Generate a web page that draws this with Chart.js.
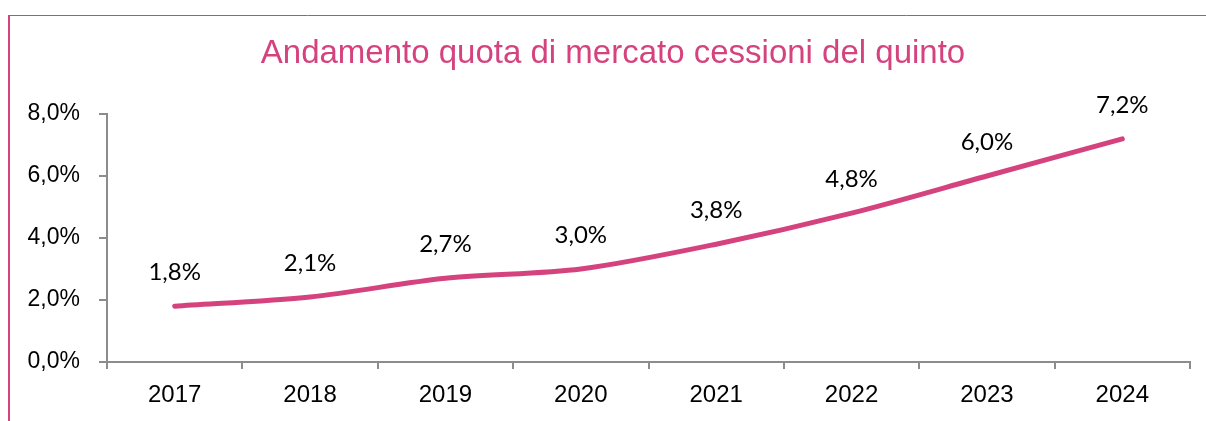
<!DOCTYPE html>
<html>
<head>
<meta charset="utf-8">
<script src="https://cdn.jsdelivr.net/npm/chart.js@4"></script>
<style>
  html, body { margin: 0; padding: 0; background: #fff; }
  #chart { display: block; }
</style>
</head>
<body>
<canvas id="chart" width="1206" height="421"></canvas>
<script>
const years = ['2017', '2018', '2019', '2020', '2021', '2022', '2023', '2024'];
const marketShare = [1.8, 2.1, 2.7, 3.0, 3.8, 4.8, 6.0, 7.2];
const yTicks = [0, 2, 4, 6, 8];

const pink = '#d5437f';
const axisGrey = '#8c8c8c';

// frame, title and point labels
const decorations = {
  id: 'decorations',
  beforeDraw(chart) {
    const ctx = chart.ctx;
    ctx.save();
    ctx.strokeStyle = pink;
    ctx.lineWidth = 2;
    ctx.beginPath();
    ctx.moveTo(9, 15);
    ctx.lineTo(9, 421);
    ctx.stroke();
    ctx.lineWidth = 1;
    ctx.beginPath();
    ctx.moveTo(8, 15.5);
    ctx.lineTo(1206, 15.5);
    ctx.stroke();

    ctx.fillStyle = pink;
    ctx.font = '33px "Liberation Sans", Arial, sans-serif';
    ctx.textAlign = 'center';
    ctx.textBaseline = 'middle';
    ctx.fillText('Andamento quota di mercato cessioni del quinto', 613, 54);
    ctx.restore();
  },
  afterDatasetsDraw(chart) {
    const ctx = chart.ctx;
    const meta = chart.getDatasetMeta(0);
    ctx.save();
    ctx.fillStyle = '#000';
    ctx.font = '24px Lato, sans-serif';
    ctx.textAlign = 'center';
    ctx.textBaseline = 'middle';
    meta.data.forEach((pt, i) => {
      const label = marketShare[i].toFixed(1).replace('.', ',') + '%';
      ctx.fillText(label, pt.x, pt.y - 34);
    });
    ctx.restore();
  }
};

new Chart(document.getElementById('chart'), {
  type: 'line',
  data: {
    labels: years,
    datasets: [{
      data: marketShare,
      borderColor: pink,
      borderWidth: 5,
      borderCapStyle: 'round',
      tension: 0.3,
      pointRadius: 0,
      fill: false,
    }],
  },
  options: {
    responsive: false,
    animation: false,
    devicePixelRatio: 1,
    layout: { padding: { top: 114, right: 16, bottom: 0, left: 0 } },
    plugins: {
      legend: { display: false },
      title: { display: false },
      tooltip: { enabled: false },
    },
    scales: {
      x: {
        offset: true,
        grid: { offset: true, drawOnChartArea: false, drawTicks: true, tickLength: 7, color: axisGrey, lineWidth: 2 },
        border: { color: axisGrey, width: 2 },
        ticks: { color: '#000', padding: 12, font: { family: '"Liberation Sans", Arial, sans-serif', size: 24 } },
        afterFit(scale) { scale.height = 59; },
      },
      y: {
        min: 0,
        max: 8,
        afterBuildTicks(scale) { scale.ticks = yTicks.map((v) => ({ value: v })); },
        grid: { drawOnChartArea: false, drawTicks: true, tickLength: 8, color: axisGrey, lineWidth: 2 },
        border: { color: axisGrey, width: 2 },
        ticks: {
          color: '#000',
          padding: 19,
          font: { family: '"Liberation Sans", Arial, sans-serif', size: 23 },
          callback: (value) => value.toFixed(1).replace('.', ',') + '%',
        },
        afterFit(scale) { scale.width = 107; },
      },
    },
  },
  plugins: [decorations],
});
</script>
</body>
</html>
